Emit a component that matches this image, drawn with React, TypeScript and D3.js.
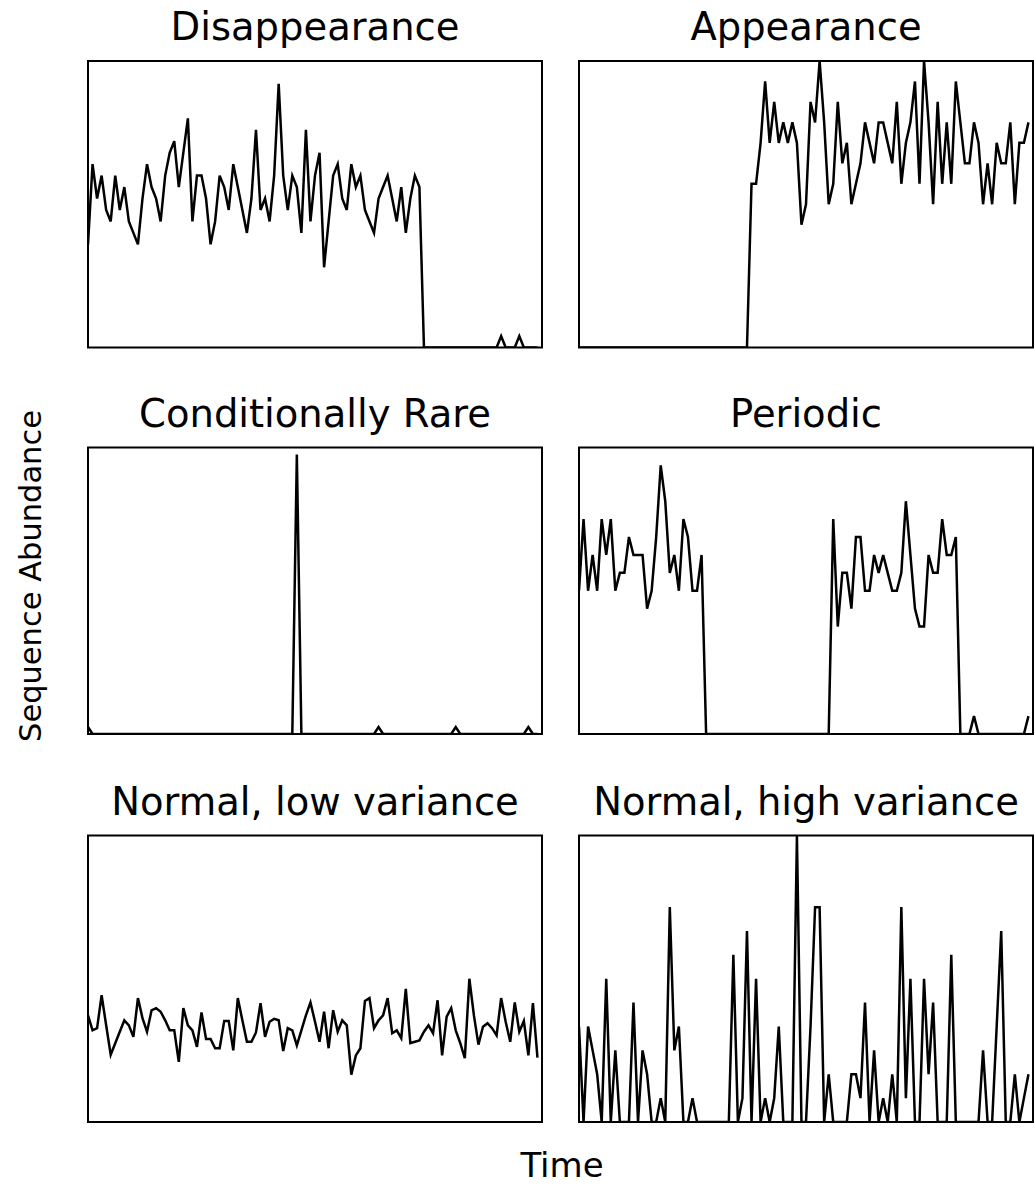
import React from 'react';
import * as d3 from 'd3';

const panelTitles = [
  'Disappearance',
  'Appearance',
  'Conditionally Rare',
  'Periodic',
  'Normal, low variance',
  'Normal, high variance',
];

const disappearance = [
  9, 16, 13, 15, 12, 11, 15, 12, 14, 11, 10, 9, 13, 16, 14, 13, 11, 15, 17, 18,
  14, 17, 20, 11, 15, 15, 13, 9, 11, 15, 14, 12, 16, 14, 12, 10, 13, 19, 12, 13,
  11, 15, 23, 15, 12, 15, 14, 10, 19, 11, 15, 17, 7, 11, 15, 16, 13, 12, 16, 14,
  15, 12, 11, 10, 13, 14, 15, 13, 11, 14, 10, 13, 15, 14, 0, 0, 0, 0, 0, 0,
  0, 0, 0, 0, 0, 0, 0, 0, 0, 0, 0, 1, 0, 0, 0, 1, 0, 0, 0, 0,
];

const appearance = [
  0, 0, 0, 0, 0, 0, 0, 0, 0, 0, 0, 0, 0, 0, 0, 0, 0, 0, 0, 0,
  0, 0, 0, 0, 0, 0, 0, 0, 0, 0, 0, 0, 0, 0, 0, 0, 0, 0, 8, 8,
  10, 13, 10, 12, 10, 11, 10, 11, 10, 6, 7, 12, 11, 14, 11, 7, 8, 12, 9, 10,
  7, 8, 9, 11, 10, 9, 11, 11, 10, 9, 12, 8, 10, 11, 13, 8, 14, 11, 7, 12,
  8, 11, 8, 13, 11, 9, 9, 11, 10, 7, 9, 7, 10, 9, 9, 11, 7, 10, 10, 11,
];

const conditionallyRare = [
  1, 0, 0, 0, 0, 0, 0, 0, 0, 0, 0, 0, 0, 0, 0, 0, 0, 0, 0, 0,
  0, 0, 0, 0, 0, 0, 0, 0, 0, 0, 0, 0, 0, 0, 0, 0, 0, 0, 0, 0,
  0, 0, 0, 0, 0, 0, 40, 0, 0, 0, 0, 0, 0, 0, 0, 0, 0, 0, 0, 0,
  0, 0, 0, 0, 1, 0, 0, 0, 0, 0, 0, 0, 0, 0, 0, 0, 0, 0, 0, 0,
  0, 1, 0, 0, 0, 0, 0, 0, 0, 0, 0, 0, 0, 0, 0, 0, 0, 1, 0, 0,
];

const periodic = [
  8, 12, 8, 10, 8, 12, 10, 12, 8, 9, 9, 11, 10, 10, 10, 7, 8, 11, 15, 13,
  9, 10, 8, 12, 11, 8, 8, 10, 0, 0, 0, 0, 0, 0, 0, 0, 0, 0, 0, 0,
  0, 0, 0, 0, 0, 0, 0, 0, 0, 0, 0, 0, 0, 0, 0, 0, 12, 6, 9, 9,
  7, 11, 11, 8, 8, 10, 9, 10, 9, 8, 8, 9, 13, 10, 7, 6, 6, 10, 9, 9,
  12, 10, 10, 11, 0, 0, 0, 1, 0, 0, 0, 0, 0, 0, 0, 0, 0, 0, 0, 1,
];

const normalLow = [
  14.9, 12.8, 13.1, 17.7, 13.5, 9.4, 11.0, 12.6, 14.2, 13.5, 11.9, 17.3, 14.5, 12.6, 15.6, 15.9, 15.4, 14.2, 12.8, 12.8,
  8.4, 15.9, 13.5, 12.8, 10.5, 15.3, 11.6, 11.6, 10.3, 10.3, 14.1, 14.1, 10.0, 17.3, 14.2, 11.2, 11.2, 12.5, 16.6, 11.9,
  14.0, 14.4, 14.2, 9.9, 13.1, 12.8, 10.7, 12.8, 14.9, 16.7, 14.0, 11.2, 15.4, 10.3, 15.6, 12.6, 14.2, 13.5, 6.6, 9.3,
  10.3, 16.9, 17.3, 13.1, 14.2, 14.9, 17.3, 12.4, 12.8, 11.7, 18.6, 11.0, 11.2, 11.4, 12.6, 13.5, 12.4, 17.0, 9.3, 14.7,
  15.9, 12.8, 11.0, 8.9, 20.0, 14.9, 10.8, 13.3, 13.8, 13.1, 12.1, 17.3, 14.0, 11.2, 16.7, 12.6, 14.1, 9.3, 16.6, 9.0,
];

const normalHigh = [
  4, 0, 4, 3, 2, 0, 6, 0, 3, 0, 0, 0, 5, 0, 3, 2, 0, 0, 1, 0,
  9, 3, 4, 0, 0, 1, 0, 0, 0, 0, 0, 0, 0, 0, 7, 0, 1, 8, 0, 6,
  0, 1, 0, 1, 4, 0, 0, 0, 12, 0, 0, 4, 9, 9, 0, 2, 0, 0, 0, 0,
  2, 2, 1, 5, 0, 3, 0, 1, 0, 2, 0, 9, 1, 6, 0, 0, 6, 2, 5, 0,
  0, 0, 7, 0, 0, 0, 0, 0, 0, 3, 0, 0, 4, 8, 0, 0, 2, 0, 1, 2,
];

const seriesList = [disappearance, appearance, conditionallyRare, periodic, normalLow, normalHigh];
const yUpper = [25, 14, 41, 16, 40, 12];
const xUpper = 100;

const W = 1034;
const H = 1186;
const colX = [88, 579];
const rowY = [61, 447.5, 835.5];
const PW = 454;
const PH = 286.5;
const FONT = 'DejaVu Sans, sans-serif';

export default function App() {
  return (
    <svg
      width={W}
      height={H}
      style={{ position: 'absolute', left: 0, top: 0, background: '#fff' }}
      xmlns="http://www.w3.org/2000/svg"
    >
      <rect x={0} y={0} width={W} height={H} fill="#fff" />
      {seriesList.map((data, i) => {
        const col = i % 2;
        const row = Math.floor(i / 2);
        const x0 = colX[col];
        const y0 = rowY[row];
        const xs = d3.scaleLinear().domain([0, xUpper]).range([x0, x0 + PW]);
        const ys = d3.scaleLinear().domain([0, yUpper[i]]).range([y0 + PH, y0]);
        const line = d3
          .line<number>()
          .x((_, j) => xs(j))
          .y((d) => ys(d));
        const clipId = `clip-${i}`;
        return (
          <g key={i}>
            <defs>
              <clipPath id={clipId}>
                <rect x={x0} y={y0} width={PW} height={PH} />
              </clipPath>
            </defs>
            <path
              d={line(data) || ''}
              fill="none"
              stroke="#000"
              strokeWidth={2.5}
              strokeLinejoin="miter"
              clipPath={`url(#${clipId})`}
            />
            <rect x={x0} y={y0} width={PW} height={PH} fill="none" stroke="#000" strokeWidth={2} />
            <text
              x={x0 + PW / 2}
              y={y0 - 21}
              textAnchor="middle"
              fontFamily={FONT}
              fontSize={38.5}
              fill="#000"
            >
              {panelTitles[i]}
            </text>
          </g>
        );
      })}
      <text x={562} y={1177} textAnchor="middle" fontFamily={FONT} fontSize={34} fill="#000">
        Time
      </text>
      <text
        transform={`translate(41, 576) rotate(-90)`}
        textAnchor="middle"
        fontFamily={FONT}
        fontSize={30.5}
        fill="#000"
      >
        Sequence Abundance
      </text>
    </svg>
  );
}
